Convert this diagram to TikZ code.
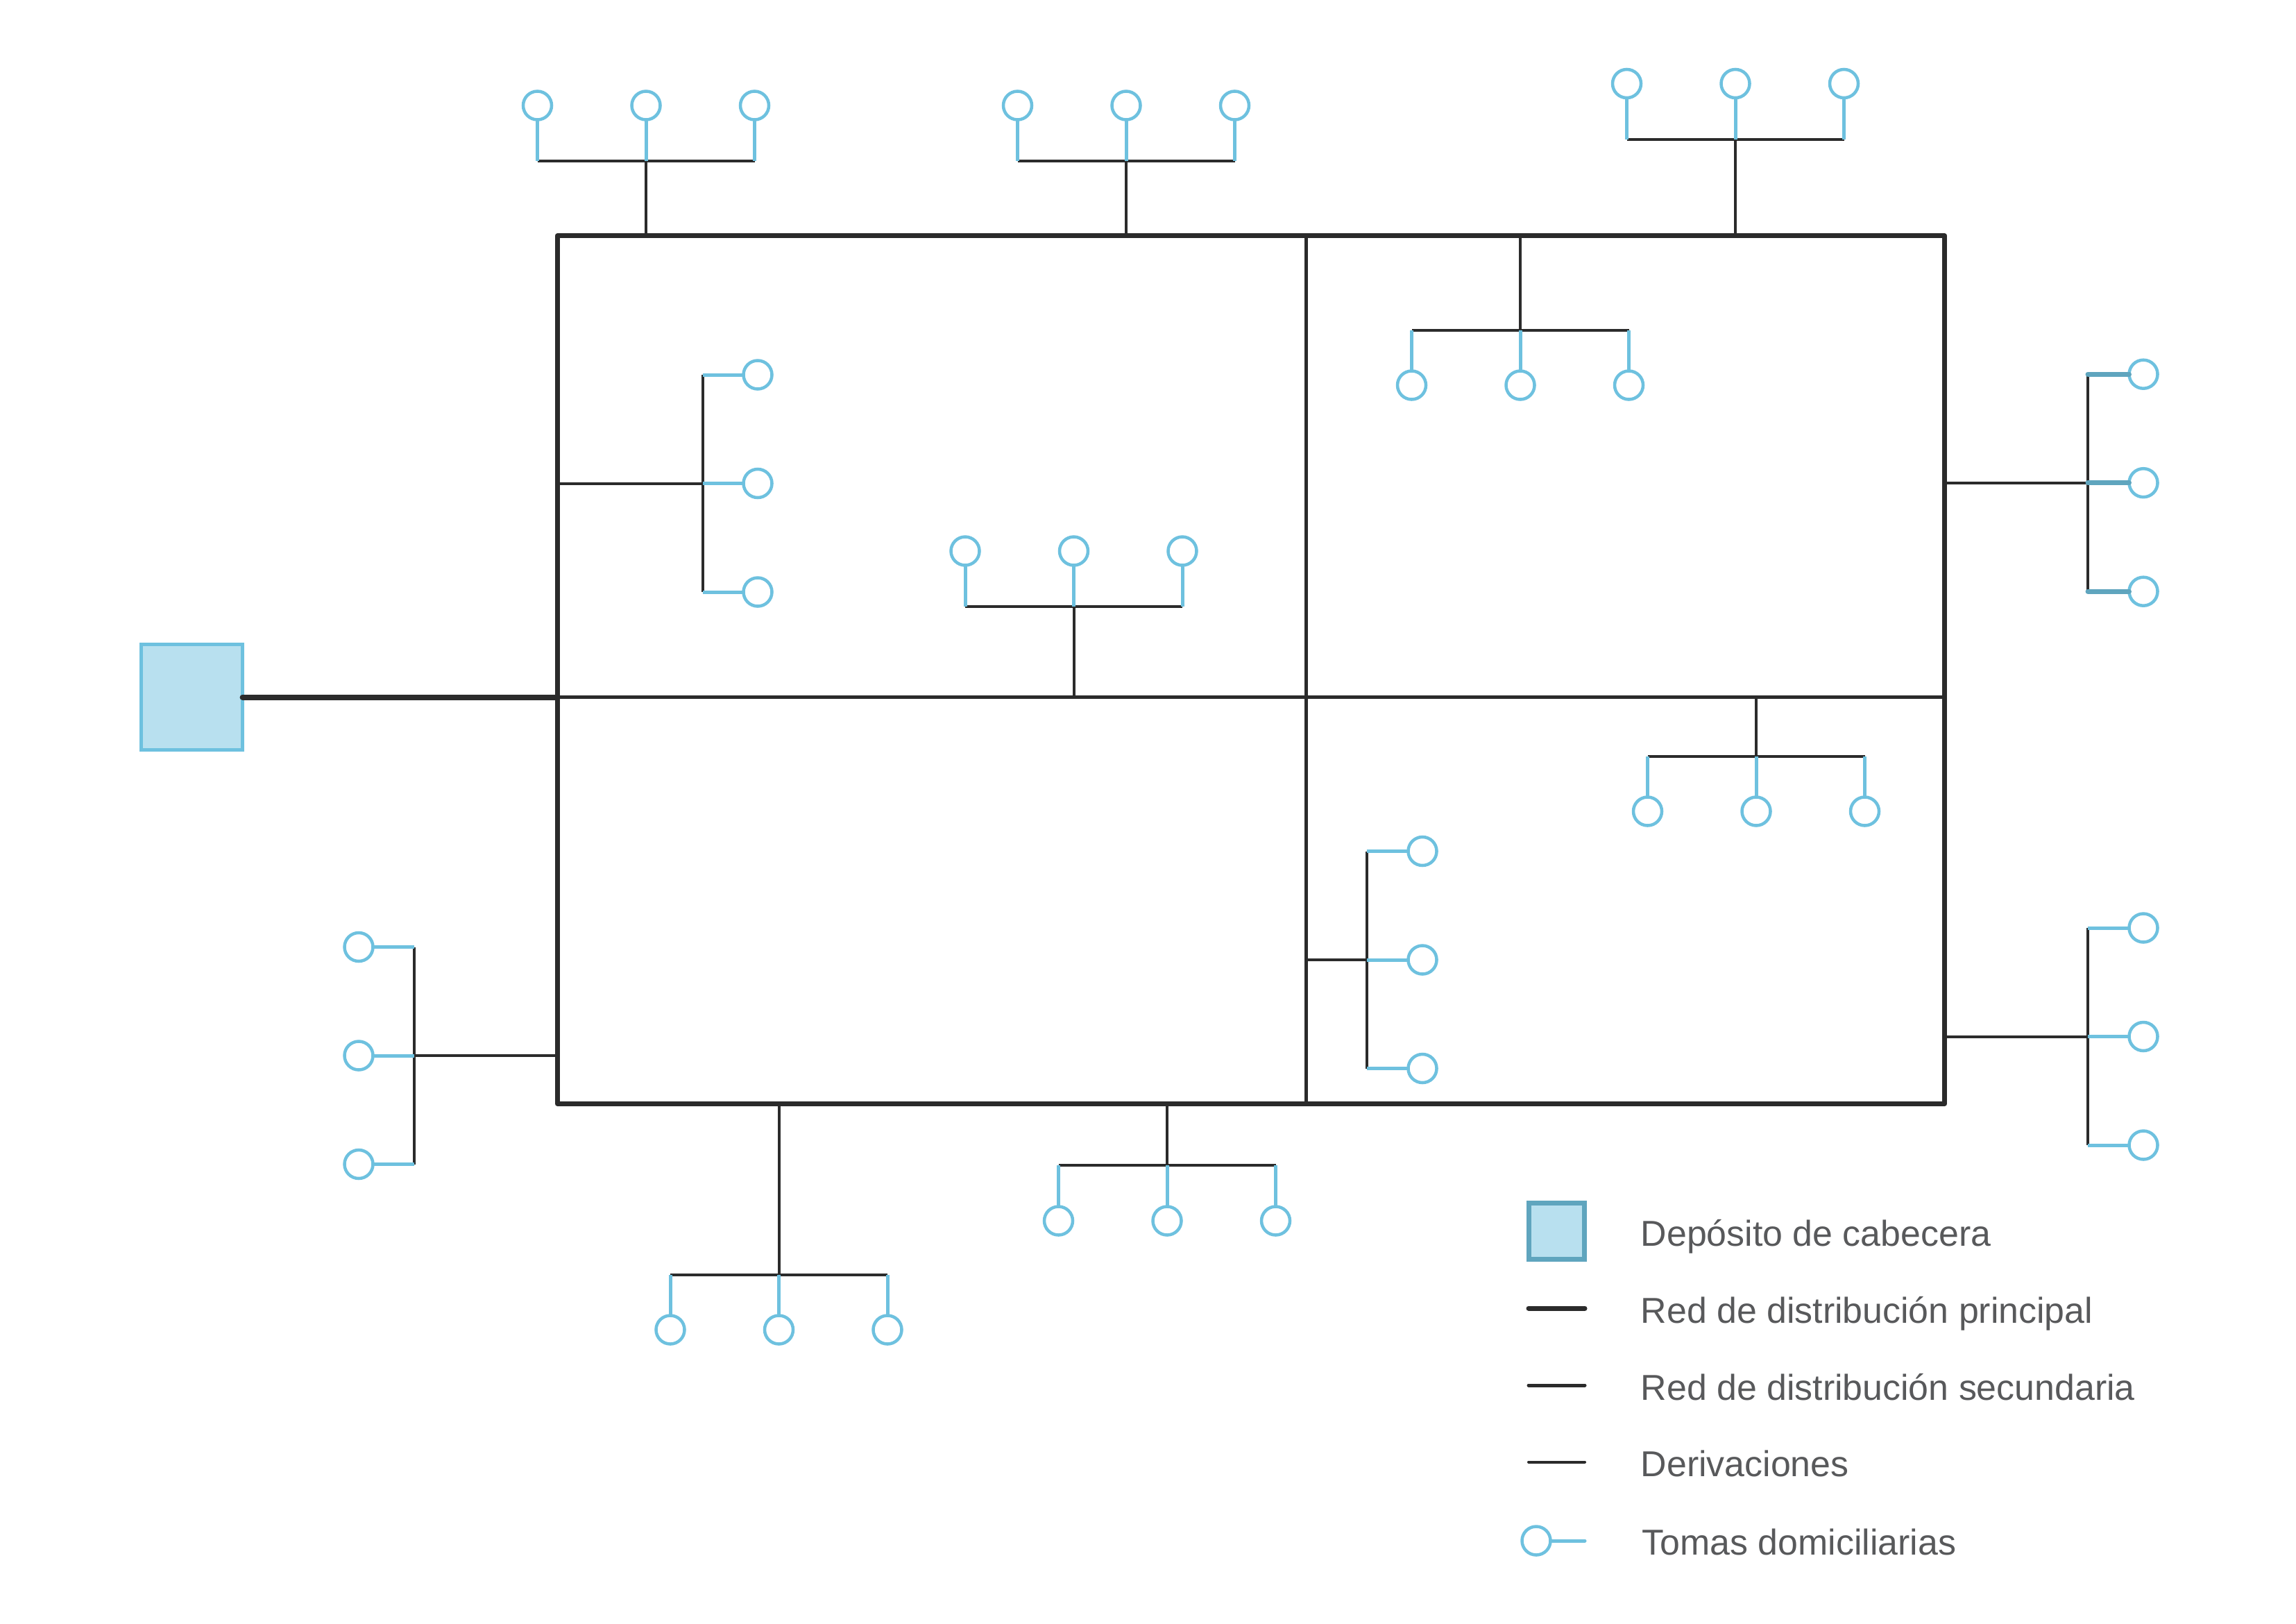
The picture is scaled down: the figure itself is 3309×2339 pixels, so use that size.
\documentclass[tikz,border=0pt]{standalone}
\usepackage{fontspec}
\setmainfont{Liberation Sans}
\usepackage{xcolor}
\usepackage{tikz}
\usetikzlibrary{positioning}
\definecolor{linea}{HTML}{2B2B2B}
\definecolor{azul}{HTML}{6EC1DF}
\definecolor{azulosc}{HTML}{5FA5BE}
\definecolor{relleno}{HTML}{B8E0EF}
\definecolor{letra}{HTML}{58595B}
\tikzset{
  prin/.style={draw=linea, line width=0.07cm, line cap=round, line join=round},
  tubo/.style={draw=linea, line width=0.08cm, line cap=round},
  sec/.style={draw=linea, line width=0.05cm},
  deriv/.style={draw=linea, line width=0.04cm},
  ramal/.style={draw=azul, line width=0.05cm},
  ramalosc/.style={draw=azulosc, line width=0.07cm, line cap=round},
  toma/.style={circle, draw=azul, line width=0.045cm, minimum size=0.41cm, inner sep=0pt, outer sep=0pt},
  deposito/.style={rectangle, draw=azul, fill=relleno, line width=0.05cm, minimum width=1.46cm, minimum height=1.52cm, inner sep=0pt, outer sep=0pt},
  depleg/.style={rectangle, draw=azulosc, fill=relleno, line width=0.07cm, minimum width=0.8cm, minimum height=0.81cm, inner sep=0pt, outer sep=0pt},
  marco/.style={rectangle, prin, minimum width=19.98cm, minimum height=12.5cm, inner sep=0pt, outer sep=0pt},
  lab/.style={anchor=base west, inner sep=0pt, text=letra, font=\fontsize{14.75}{17}\selectfont},
}
\newcommand{\ramalh}[6][ramal]{
  \foreach \k/\d in {a/-156.5,m/0,c/156.5}
    \node[toma] (#2\k) at (#3+\d,#4) {};
  \coordinate (#2b) at (#3,#5);
  \coordinate (#2t) at (#3,#6);
  \draw[deriv] (#2a |- #2b) -- (#2c |- #2b);
  \draw[deriv] (#2b) -- (#2t);
  \foreach \k in {a,m,c}
    \draw[#1] (#2\k) -- (#2\k |- #2b);
}
\newcommand{\ramalv}[6][ramal]{
  \foreach \k/\d in {a/-156.5,m/0,c/156.5}
    \node[toma] (#2\k) at (#3,#6+\d) {};
  \coordinate (#2b) at (#4,#6);
  \coordinate (#2t) at (#5,#6);
  \draw[deriv] (#2b |- #2a) -- (#2b |- #2c);
  \draw[deriv] (#2b) -- (#2t);
  \foreach \k in {a,m,c}
    \draw[#1] (#2\k) -- (#2\k -| #2b);
}

\begin{document}
\begin{tikzpicture}[x=0.01cm, y=-0.01cm]
\useasboundingbox (0,0) rectangle (3309,2339);

\node[marco] (red) at (1803,965) {};
\coordinate (cruce) at (1882.5,1004.5);
\draw[sec] (red.west |- cruce) -- (red.east |- cruce);
\draw[sec] (red.north -| cruce) -- (red.south -| cruce);
\node[deposito] (dep) at (276.5,1004.5) {};
\draw[tubo] (dep.east |- cruce) -- (red.west |- cruce);

\ramalh{ta}{931}{152}{232}{340}
\ramalh{tb}{1623}{152}{232}{340}
\ramalh{tc}{2501}{120.5}{200.5}{340}
\ramalh{td}{2191}{555}{475.5}{340}
\ramalh{te}{1547.5}{794}{874}{1004.5}
\ramalh{tf}{2531}{1169}{1089.5}{1004.5}
\ramalh{tg}{1122.5}{1916}{1836.5}{1590}
\ramalh{th}{1682}{1759}{1678.5}{1590}
\ramalv{va}{1092}{1013}{804}{696.5}
\ramalv[ramalosc]{vb}{3089}{3009}{2802}{695.7}
\ramalv{vc}{2050}{1970}{1882.5}{1383}
\ramalv{vd}{3089}{3009}{2802}{1493.5}
\ramalv{ve}{517}{597}{804}{1521}

\node[depleg] (ldep) at (2243.5,1774) {};
\foreach \n/\y/\s in {b/1885/prin,c/1996/sec,d/2106.5/deriv} {
  \coordinate (l\n i) at (2203,\y);
  \coordinate (l\n f) at (2284,\y);
  \draw[\s, line cap=round] (l\n i) -- (l\n f);
}
\node[toma] (ltoma) at (2214,2220) {};
\coordinate (ltomaf) at (2284,2220);
\draw[ramal, line cap=round] (ltoma) -- (ltomaf);

\node[lab] (ta) at (2364,1795) {Depósito de cabecera};
\node[lab] (tb) at (2364,1906) {Red de distribución principal};
\node[lab] (tc) at (2364,2017) {Red de distribución secundaria};
\node[lab] (td) at (2364,2127) {Derivaciones};
\node[lab] (te) at (2366,2240) {Tomas domiciliarias};
\end{tikzpicture}
\end{document}
